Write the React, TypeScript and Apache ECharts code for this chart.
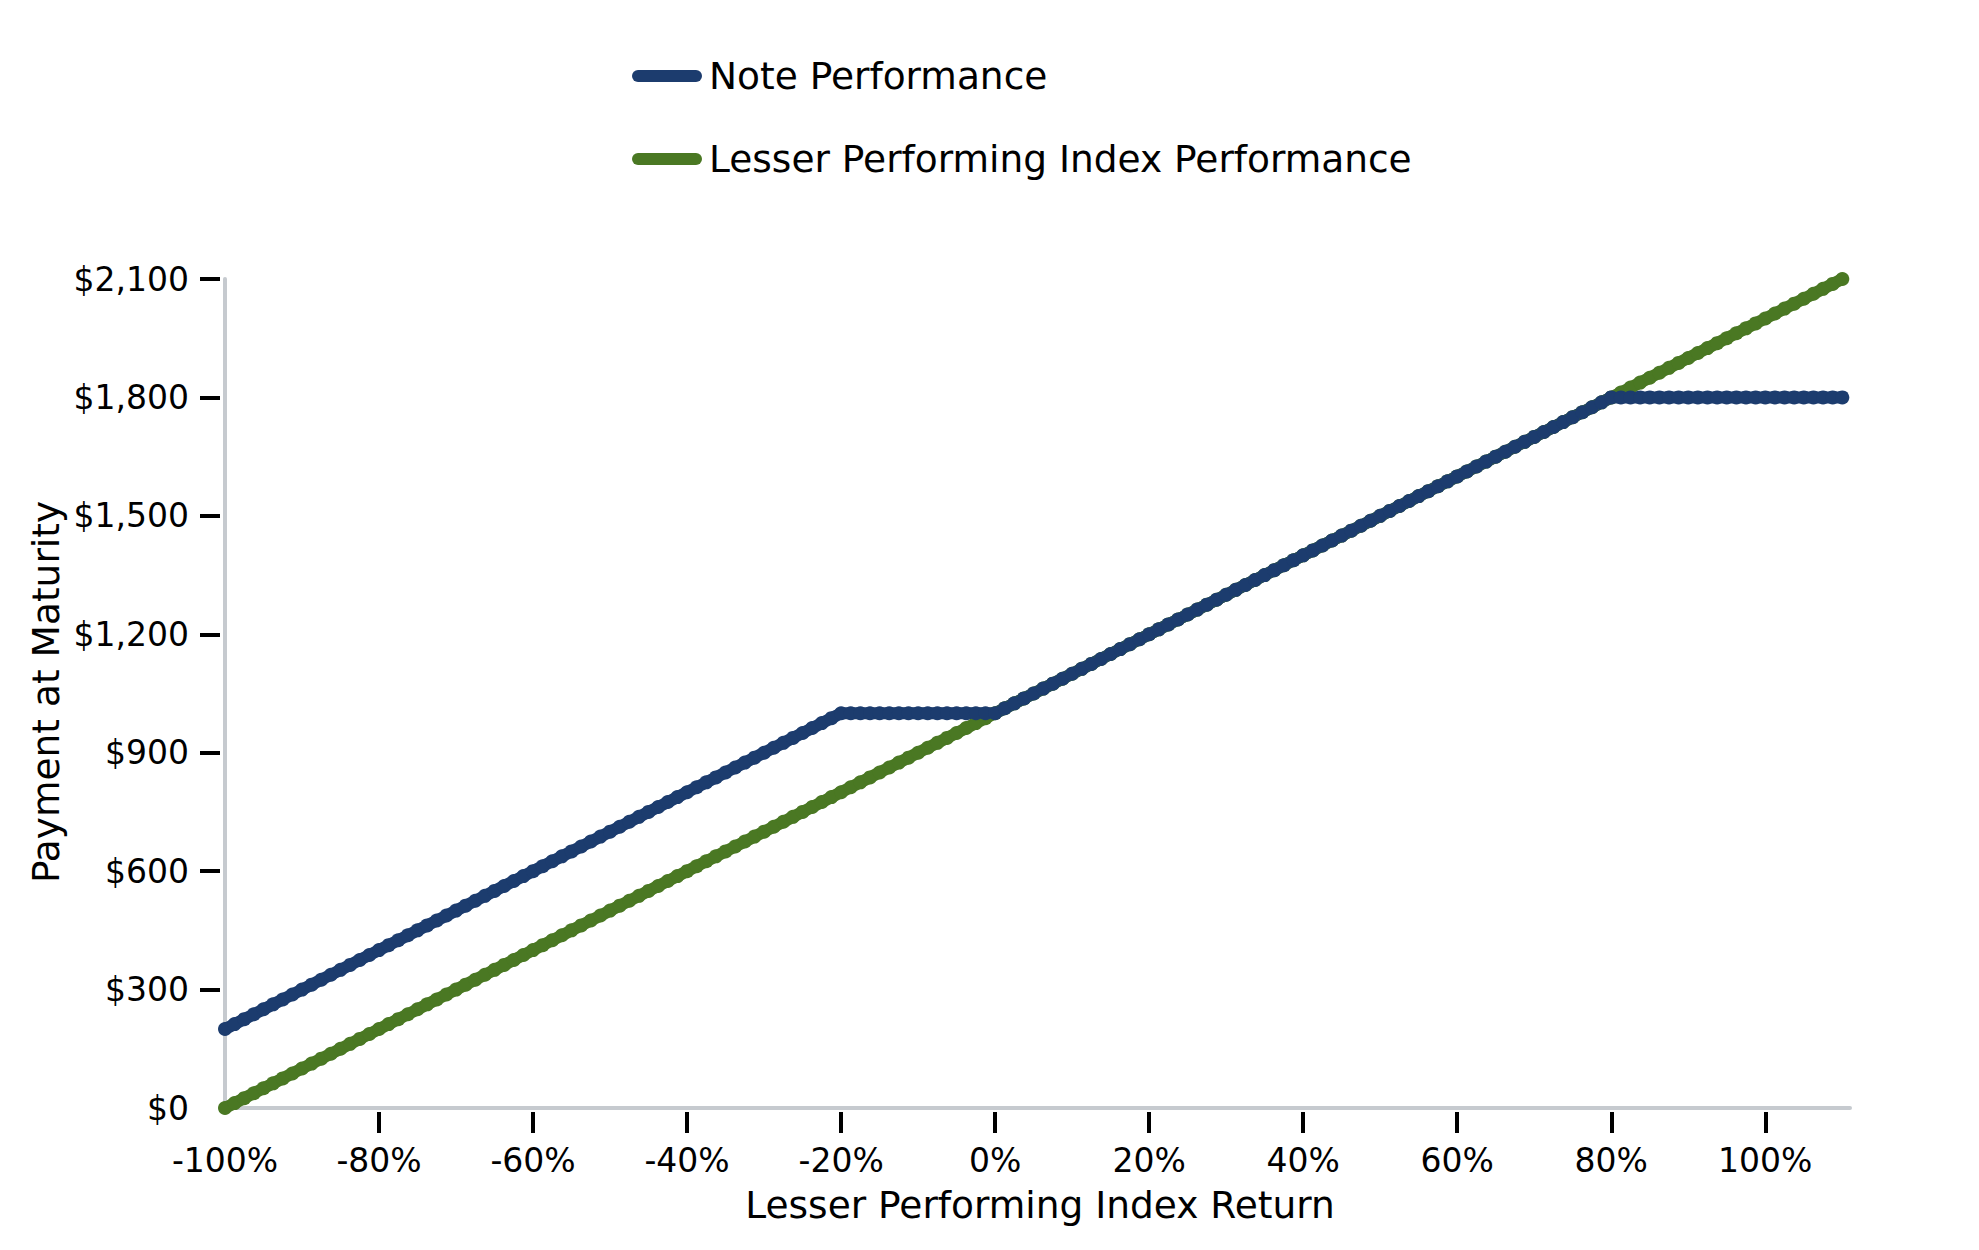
import React, { useEffect, useRef } from "react";
import * as echarts from "echarts";

const xs = [
  -100, -98.75, -97.5, -96.25, -95, -93.75, -92.5, -91.25,
  -90, -88.75, -87.5, -86.25, -85, -83.75, -82.5, -81.25,
  -80, -78.75, -77.5, -76.25, -75, -73.75, -72.5, -71.25,
  -70, -68.75, -67.5, -66.25, -65, -63.75, -62.5, -61.25,
  -60, -58.75, -57.5, -56.25, -55, -53.75, -52.5, -51.25,
  -50, -48.75, -47.5, -46.25, -45, -43.75, -42.5, -41.25,
  -40, -38.75, -37.5, -36.25, -35, -33.75, -32.5, -31.25,
  -30, -28.75, -27.5, -26.25, -25, -23.75, -22.5, -21.25,
  -20, -18.75, -17.5, -16.25, -15, -13.75, -12.5, -11.25,
  -10, -8.75, -7.5, -6.25, -5, -3.75, -2.5, -1.25,
  0, 1.25, 2.5, 3.75, 5, 6.25, 7.5, 8.75,
  10, 11.25, 12.5, 13.75, 15, 16.25, 17.5, 18.75,
  20, 21.25, 22.5, 23.75, 25, 26.25, 27.5, 28.75,
  30, 31.25, 32.5, 33.75, 35, 36.25, 37.5, 38.75,
  40, 41.25, 42.5, 43.75, 45, 46.25, 47.5, 48.75,
  50, 51.25, 52.5, 53.75, 55, 56.25, 57.5, 58.75,
  60, 61.25, 62.5, 63.75, 65, 66.25, 67.5, 68.75,
  70, 71.25, 72.5, 73.75, 75, 76.25, 77.5, 78.75,
  80, 81.25, 82.5, 83.75, 85, 86.25, 87.5, 88.75,
  90, 91.25, 92.5, 93.75, 95, 96.25, 97.5, 98.75,
  100, 101.25, 102.5, 103.75, 105, 106.25, 107.5, 108.75,
  110,
];

const indexPerf = [
  0, 12.5, 25, 37.5, 50, 62.5, 75, 87.5,
  100, 112.5, 125, 137.5, 150, 162.5, 175, 187.5,
  200, 212.5, 225, 237.5, 250, 262.5, 275, 287.5,
  300, 312.5, 325, 337.5, 350, 362.5, 375, 387.5,
  400, 412.5, 425, 437.5, 450, 462.5, 475, 487.5,
  500, 512.5, 525, 537.5, 550, 562.5, 575, 587.5,
  600, 612.5, 625, 637.5, 650, 662.5, 675, 687.5,
  700, 712.5, 725, 737.5, 750, 762.5, 775, 787.5,
  800, 812.5, 825, 837.5, 850, 862.5, 875, 887.5,
  900, 912.5, 925, 937.5, 950, 962.5, 975, 987.5,
  1000, 1012.5, 1025, 1037.5, 1050, 1062.5, 1075, 1087.5,
  1100, 1112.5, 1125, 1137.5, 1150, 1162.5, 1175, 1187.5,
  1200, 1212.5, 1225, 1237.5, 1250, 1262.5, 1275, 1287.5,
  1300, 1312.5, 1325, 1337.5, 1350, 1362.5, 1375, 1387.5,
  1400, 1412.5, 1425, 1437.5, 1450, 1462.5, 1475, 1487.5,
  1500, 1512.5, 1525, 1537.5, 1550, 1562.5, 1575, 1587.5,
  1600, 1612.5, 1625, 1637.5, 1650, 1662.5, 1675, 1687.5,
  1700, 1712.5, 1725, 1737.5, 1750, 1762.5, 1775, 1787.5,
  1800, 1812.5, 1825, 1837.5, 1850, 1862.5, 1875, 1887.5,
  1900, 1912.5, 1925, 1937.5, 1950, 1962.5, 1975, 1987.5,
  2000, 2012.5, 2025, 2037.5, 2050, 2062.5, 2075, 2087.5,
  2100,
];

const notePerf = [
  200, 212.5, 225, 237.5, 250, 262.5, 275, 287.5,
  300, 312.5, 325, 337.5, 350, 362.5, 375, 387.5,
  400, 412.5, 425, 437.5, 450, 462.5, 475, 487.5,
  500, 512.5, 525, 537.5, 550, 562.5, 575, 587.5,
  600, 612.5, 625, 637.5, 650, 662.5, 675, 687.5,
  700, 712.5, 725, 737.5, 750, 762.5, 775, 787.5,
  800, 812.5, 825, 837.5, 850, 862.5, 875, 887.5,
  900, 912.5, 925, 937.5, 950, 962.5, 975, 987.5,
  1000, 1000, 1000, 1000, 1000, 1000, 1000, 1000,
  1000, 1000, 1000, 1000, 1000, 1000, 1000, 1000,
  1000, 1012.5, 1025, 1037.5, 1050, 1062.5, 1075, 1087.5,
  1100, 1112.5, 1125, 1137.5, 1150, 1162.5, 1175, 1187.5,
  1200, 1212.5, 1225, 1237.5, 1250, 1262.5, 1275, 1287.5,
  1300, 1312.5, 1325, 1337.5, 1350, 1362.5, 1375, 1387.5,
  1400, 1412.5, 1425, 1437.5, 1450, 1462.5, 1475, 1487.5,
  1500, 1512.5, 1525, 1537.5, 1550, 1562.5, 1575, 1587.5,
  1600, 1612.5, 1625, 1637.5, 1650, 1662.5, 1675, 1687.5,
  1700, 1712.5, 1725, 1737.5, 1750, 1762.5, 1775, 1787.5,
  1800, 1800, 1800, 1800, 1800, 1800, 1800, 1800,
  1800, 1800, 1800, 1800, 1800, 1800, 1800, 1800,
  1800, 1800, 1800, 1800, 1800, 1800, 1800, 1800,
  1800,
];

const xLabelValues = [-100, -80, -60, -40, -20, 0, 20, 40, 60, 80, 100];
const xTickValues = [-80, -60, -40, -20, 0, 20, 40, 60, 80, 100];
const yLabelValues = [0, 300, 600, 900, 1200, 1500, 1800, 2100];
const yTickValues = [300, 600, 900, 1200, 1500, 1800, 2100];

const NOTE_NAME = "Note Performance";
const INDEX_NAME = "Lesser Performing Index Performance";
const X_TITLE = "Lesser Performing Index Return";
const Y_TITLE = "Payment at Maturity";

const BLUE = "#1c3c6e";
const GREEN = "#4a7823";
const AXIS_GREY = "#c6cacf";
const FONT = "DejaVu Sans";

export default function App() {
  const ref = useRef<HTMLDivElement>(null);

  useEffect(() => {
    if (!ref.current) return;
    const chart = echarts.init(ref.current, undefined, { renderer: "svg" });
    const capsule = "path://M6,0 L64,0 A6,6 0 0 1 64,12 L6,12 A6,6 0 0 1 6,0 Z";
    const grid = { left: 225, right: 129, top: 279, bottom: 142, containLabel: false };
    const xBase = { type: "value", min: -100, max: 111, gridIndex: 0 };
    const yBase = { type: "value", min: 0, max: 2100, interval: 300, gridIndex: 0 };

    chart.setOption({
      animation: false,
      backgroundColor: "#ffffff",
      grid,
      legend: {
        orient: "vertical",
        left: 627,
        top: 51,
        itemWidth: 70,
        itemHeight: 12,
        itemGap: 43,
        data: [
          { name: NOTE_NAME, icon: capsule, itemStyle: { color: BLUE } },
          { name: INDEX_NAME, icon: capsule, itemStyle: { color: GREEN } },
        ],
        textStyle: { fontFamily: FONT, fontSize: 37.5, color: "#000", lineHeight: 40, padding: [0, 0, 0, 2] },
        selectedMode: false,
      },
      xAxis: [
        {
          ...xBase,
          axisLine: { show: true, onZero: false, lineStyle: { color: AXIS_GREY, width: 4 } },
          axisTick: { show: false },
          axisLabel: { show: false },
          splitLine: { show: false },
        },
        {
          ...xBase,
          position: "bottom",
          offset: 4,
          axisLine: { show: false, onZero: false },
          axisTick: {
            show: true,
            length: 21,
            customValues: xTickValues,
            lineStyle: { color: "#000", width: 4 },
          },
          axisLabel: {
            show: true,
            customValues: xLabelValues,
            margin: 32,
            fontFamily: FONT,
            fontSize: 33,
            color: "#000",
            formatter: (v: number) => `${v}%`,
          },
          splitLine: { show: false },
        },
      ],
      yAxis: [
        {
          ...yBase,
          axisLine: { show: true, onZero: false, lineStyle: { color: AXIS_GREY, width: 4 } },
          axisTick: { show: false },
          axisLabel: { show: false },
          splitLine: { show: false },
        },
        {
          ...yBase,
          position: "left",
          offset: 5,
          axisLine: { show: false, onZero: false },
          axisTick: {
            show: true,
            length: 20,
            customValues: yTickValues,
            lineStyle: { color: "#000", width: 4 },
          },
          axisLabel: {
            show: true,
            customValues: yLabelValues,
            margin: 31,
            fontFamily: FONT,
            fontSize: 33,
            color: "#000",
            formatter: (v: number) => "$" + v.toLocaleString("en-US"),
          },
          splitLine: { show: false },
        },
      ],
      graphic: [
        {
          type: "text",
          x: 1040,
          y: 1205,
          style: {
            text: X_TITLE,
            font: `37.5px "${FONT}"`,
            fill: "#000",
            align: "center",
            verticalAlign: "middle",
          },
        },
        {
          type: "text",
          x: 46,
          y: 692,
          rotation: Math.PI / 2,
          style: {
            text: Y_TITLE,
            font: `37.5px "${FONT}"`,
            fill: "#000",
            align: "center",
            verticalAlign: "middle",
          },
        },
      ],
      series: [
        {
          name: INDEX_NAME,
          type: "line",
          xAxisIndex: 0,
          yAxisIndex: 0,
          data: xs.map((x, i) => [x, indexPerf[i]]),
          symbol: "circle",
          symbolSize: 14,
          showSymbol: true,
          clip: false,
          itemStyle: { color: GREEN },
          lineStyle: { color: GREEN, width: 12 },
          emphasis: { disabled: true },
        },
        {
          name: NOTE_NAME,
          type: "line",
          xAxisIndex: 0,
          yAxisIndex: 0,
          data: xs.map((x, i) => [x, notePerf[i]]),
          symbol: "circle",
          symbolSize: 14,
          showSymbol: true,
          clip: false,
          itemStyle: { color: BLUE },
          lineStyle: { color: BLUE, width: 12 },
          emphasis: { disabled: true },
        },
      ],
    });
    return () => chart.dispose();
  }, []);

  return (
    <div
      ref={ref}
      style={{ position: "fixed", left: 0, top: 0, width: 1979, height: 1250, background: "#fff" }}
    />
  );
}
